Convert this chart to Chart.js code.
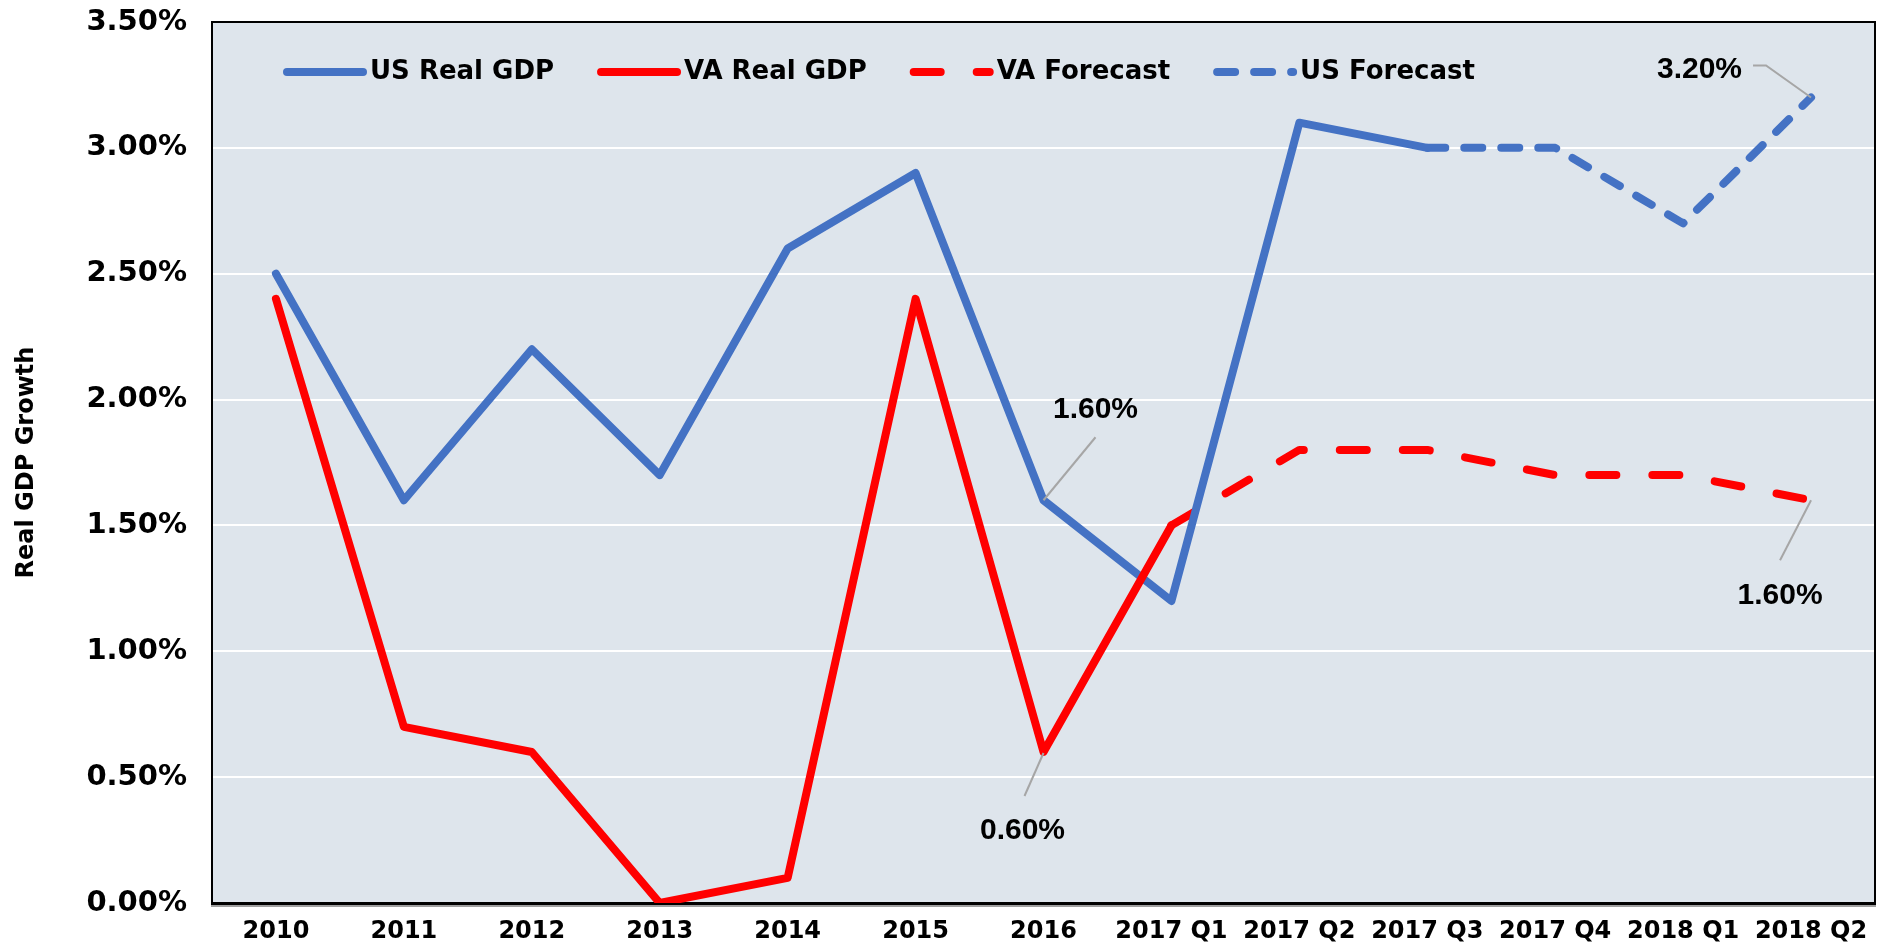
<!DOCTYPE html>
<html>
<head>
<meta charset="utf-8">
<script src="https://cdn.jsdelivr.net/npm/chart.js@4.4.0/dist/chart.umd.min.js"></script>
<style>
  html, body { margin: 0; padding: 0; background: #ffffff; }
  #wrap { width: 1893px; height: 951px; }
</style>
</head>
<body>
<div id="wrap"><canvas id="c" width="1893" height="951"></canvas></div>
<script>
// ---- data ----
const categories = ['2010', '2011', '2012', '2013', '2014', '2015', '2016', '2017 Q1', '2017 Q2', '2017 Q3', '2017 Q4', '2018 Q1', '2018 Q2'];
const usRealGdp  = [2.5, 1.6, 2.2, 1.7, 2.6, 2.9, 1.6, 1.2, 3.1, 3.0, null, null, null];
const vaRealGdp  = [2.4, 0.7, 0.6, 0.0, 0.1, 2.4, 0.6, 1.5, null, null, null, null, null];
const vaForecast = [null, null, null, null, null, null, null, 1.5, 1.8, 1.8, 1.7, 1.7, 1.6];
const usForecast = [null, null, null, null, null, null, null, null, null, 3.0, 3.0, 2.7, 3.2];
const yTickValues = [0, 0.5, 1.0, 1.5, 2.0, 2.5, 3.0, 3.5];
const seriesNames = ['US Real GDP', 'VA Real GDP', 'VA Forecast', 'US Forecast'];
const axisTitle = 'Real GDP Growth';

// ---- styles ----
const BLUE = '#4472C4';
const RED = '#FF0000';
const PLOT_BG = '#DEE5EC';
const LEADER = '#A6A6A6';
const UI_FONT = 'DejaVu Sans';
const LABEL_FONT = 'Liberation Sans';

const lineCommon = {
  borderWidth: 8, pointRadius: 0, pointHoverRadius: 0, tension: 0,
  borderCapStyle: 'round', borderJoinStyle: 'round', fill: false, spanGaps: false
};

// which datasets get callouts (dataset index, category index) + placement style
const calloutStyle = [
  { ds: 0, idx: 6,  dx: 52,  dy: -93, align: 'center', path: [[0, 0], [52, -63]] },
  { ds: 1, idx: 6,  dx: -21, dy: 76,  align: 'center', path: [[0, 1], [-19, 44]] },
  { ds: 3, idx: 12, dx: -69, dy: -31, align: 'right',  path: [[0, 0], [-45, -32], [-58, -32]] },
  { ds: 2, idx: 12, dx: -31, dy: 93,  align: 'center', path: [[0, 0], [-31, 60]] }
];

const bgPlugin = {
  id: 'bgPlugin',
  beforeDraw(chart) {
    const { ctx, chartArea: a } = chart;
    ctx.save();
    ctx.fillStyle = '#ffffff';
    ctx.fillRect(0, 0, chart.width, chart.height);
    ctx.fillStyle = PLOT_BG;
    ctx.fillRect(a.left, a.top, a.right - a.left, a.bottom - a.top);
    ctx.restore();
  },
  beforeDatasetsDraw(chart) {
    const { ctx, chartArea: a } = chart;
    ctx.save();
    ctx.strokeStyle = '#000000';
    ctx.lineWidth = 2;
    ctx.beginPath();
    ctx.moveTo(a.left, a.bottom);
    ctx.lineTo(a.left, a.top);
    ctx.lineTo(a.right, a.top);
    ctx.lineTo(a.right, a.bottom);
    ctx.stroke();
    ctx.strokeStyle = '#7f7f7f';
    ctx.lineWidth = 1.5;
    ctx.beginPath();
    ctx.moveTo(a.left - 1, a.bottom + 3);
    ctx.lineTo(a.right + 1, a.bottom + 3);
    ctx.stroke();
    ctx.strokeStyle = '#000000';
    ctx.lineWidth = 3;
    ctx.beginPath();
    ctx.moveTo(a.left - 1, a.bottom + 0.5);
    ctx.lineTo(a.right + 1, a.bottom + 0.5);
    ctx.stroke();
    ctx.restore();
  }
};

const legendPlugin = {
  id: 'legendPlugin',
  afterDraw(chart) {
    const { ctx, chartArea: a } = chart;
    ctx.save();
    ctx.font = 'bold 26px ' + UI_FONT;
    ctx.textBaseline = 'middle';
    ctx.textAlign = 'left';
    let x = a.left + 71;
    const y = a.top + 50;
    chart.data.datasets.forEach((ds) => {
      ctx.strokeStyle = ds.borderColor;
      ctx.lineWidth = 8;
      ctx.lineCap = 'round';
      ctx.setLineDash(ds.borderDash || []);
      ctx.beginPath();
      ctx.moveTo(x + 4, y);
      ctx.lineTo(x + 80, y);
      ctx.stroke();
      ctx.setLineDash([]);
      ctx.fillStyle = '#000000';
      ctx.fillText(ds.label, x + 87, y);
      x += 87 + ctx.measureText(ds.label).width + 43;
    });
    ctx.restore();
  }
};

const calloutPlugin = {
  id: 'calloutPlugin',
  afterDraw(chart) {
    const { ctx } = chart;
    ctx.save();
    calloutStyle.forEach((c) => {
      const meta = chart.getDatasetMeta(c.ds);
      const pt = meta.data[c.idx];
      const val = chart.data.datasets[c.ds].data[c.idx];
      if (!pt || val == null) return;
      ctx.strokeStyle = LEADER;
      ctx.lineWidth = 2;
      ctx.setLineDash([]);
      ctx.beginPath();
      c.path.forEach((p, i) => {
        const px = pt.x + p[0], py = pt.y + p[1];
        if (i === 0) ctx.moveTo(px, py); else ctx.lineTo(px, py);
      });
      ctx.stroke();
      ctx.fillStyle = '#000000';
      ctx.font = 'bold 30px ' + LABEL_FONT;
      ctx.textAlign = c.align;
      ctx.textBaseline = 'alphabetic';
      ctx.fillText(val.toFixed(2) + '%', pt.x + c.dx, pt.y + c.dy + 11);
    });
    ctx.restore();
  }
};

new Chart(document.getElementById('c'), {
  type: 'line',
  data: {
    labels: categories,
    datasets: [
      { label: seriesNames[0], data: usRealGdp,  borderColor: BLUE, order: 1, ...lineCommon },
      { label: seriesNames[1], data: vaRealGdp,  borderColor: RED,  order: 0, ...lineCommon },
      { label: seriesNames[2], data: vaForecast, borderColor: RED,  order: 2, borderDash: [27, 36], ...lineCommon },
      { label: seriesNames[3], data: usForecast, borderColor: BLUE, order: 3, borderDash: [18, 19], ...lineCommon }
    ]
  },
  options: {
    responsive: false,
    animation: false,
    devicePixelRatio: 1,
    events: [],
    layout: { padding: { top: 22, right: 18, left: 0, bottom: 0 } },
    plugins: { legend: { display: false }, tooltip: { enabled: false }, title: { display: false } },
    scales: {
      x: {
        type: 'category',
        offset: true,
        grid: { display: false, drawTicks: false },
        border: { display: false },
        ticks: {
          color: '#000000',
          font: { family: UI_FONT, weight: 'bold', size: 24 },
          padding: 14, autoSkip: false, maxRotation: 0, minRotation: 0
        },
        afterFit(s) { s.height = 48; s.paddingLeft = 0; s.paddingRight = 0; }
      },
      y: {
        min: yTickValues[0],
        max: yTickValues[yTickValues.length - 1],
        afterBuildTicks(s) { s.ticks = yTickValues.map(v => ({ value: v })); },
        grid: { color: '#ffffff', lineWidth: 2, drawTicks: false },
        border: { display: false },
        ticks: {
          color: '#000000',
          font: { family: UI_FONT, weight: 'bold', size: 29 },
          padding: 25,
          callback: (v) => Number(v).toFixed(2) + '%'
        },
        title: {
          display: true, text: axisTitle, color: '#000000',
          font: { family: UI_FONT, weight: 'bold', size: 24, lineHeight: 1 },
          padding: { top: 15, bottom: 0 }
        },
        afterFit(s) { s.width = 212; s.paddingTop = 0; s.paddingBottom = 0; }
      }
    }
  },
  plugins: [bgPlugin, legendPlugin, calloutPlugin]
});
</script>
</body>
</html>
